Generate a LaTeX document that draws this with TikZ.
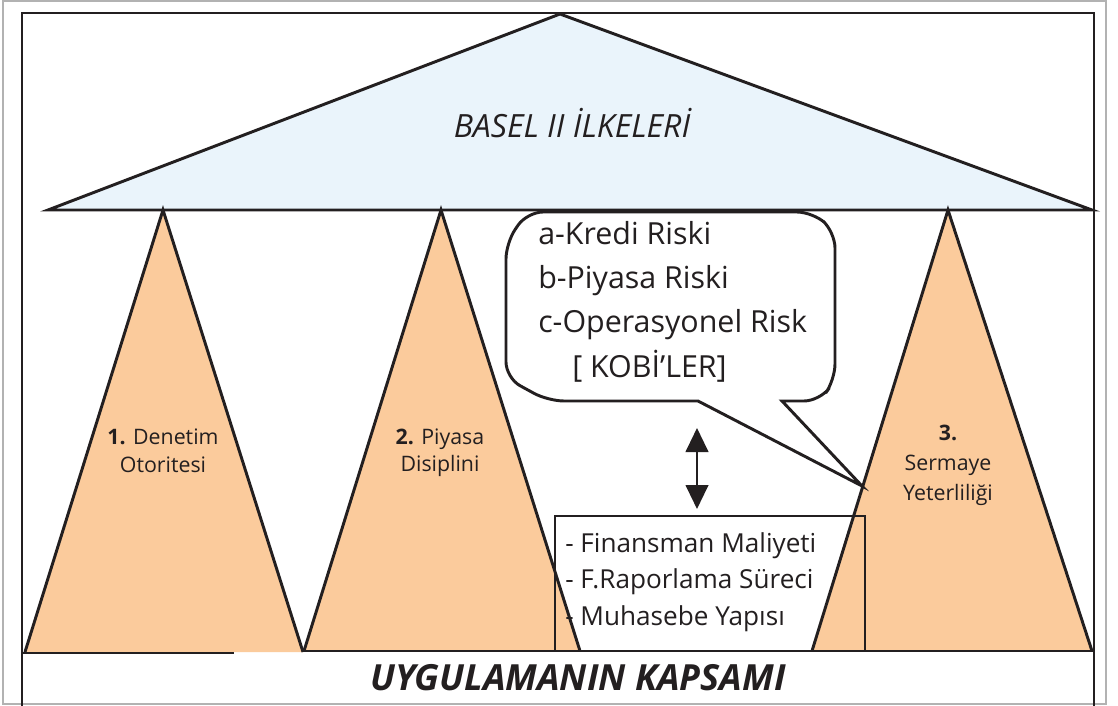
\documentclass[tikz,border=0pt]{standalone}
\usepackage{fontspec}
\setmainfont{Open Sans}
\usetikzlibrary{arrows.meta}
\definecolor{roofblue}{HTML}{EAF4FB}
\definecolor{peach}{HTML}{FBCB9C}
\definecolor{ink}{HTML}{231F20}
\begin{document}
\begin{tikzpicture}[x=0.75pt,y=-0.75pt,
  edge/.style={draw=ink,line width=2.2pt,line join=miter},
  framel/.style={draw=ink,line width=1.6pt},
  pilfill/.style={fill=peach},
  pillabel/.style={inner sep=0pt,anchor=base,text=ink,font=\fontsize{16}{18}\selectfont},
  calltext/.style={inner sep=0pt,anchor=base west,text=ink,font=\fontsize{22.8}{26}\selectfont},
  boxtext/.style={inner sep=0pt,anchor=base west,text=ink,font=\fontsize{19.6}{22}\selectfont},
  title/.style={inner sep=0pt,anchor=base,text=ink,font=\fontsize{24}{28}\selectfont\itshape},
  bigtitle/.style={inner sep=0pt,anchor=base,text=ink,font=\fontsize{27}{30}\selectfont\bfseries\itshape},
  dblarrow/.style={draw=ink,line width=1.6pt,{Triangle[width=17pt,length=18pt]}-{Triangle[width=17pt,length=18pt]}}
]
\useasboundingbox (0,0) rectangle (1118,706);
\fill[white] (0,0) rectangle (1118,706);
% outer thin frame and inner frame
\draw[gray!60,line width=0.8pt] (3,1) rectangle (1106,704);
\draw[framel] (22,706) -- (22,13) -- (1094,13) -- (1094,706);
% roof
\filldraw[fill=roofblue,edge] (48,210) -- (560,14) -- (1092,210) -- cycle;
\node[title] (rooftitle) at (572,138) {BASEL II İLKELERİ};
% pillars
\fill[pilfill] (163,210) -- (25,652) -- (303,652) -- cycle;
\draw[edge] (25,652) -- (163,210) -- (303,652);
\fill[pilfill] (441,210) -- (304,651) -- (580,651) -- cycle;
\draw[edge] (304,651) -- (441,210) -- (580,651);
\fill[pilfill] (948,210) -- (812,651) -- (1092,651) -- cycle;
\draw[edge] (812,651) -- (948,210) -- (1092,651);
% base line
\draw[framel] (22,653) -- (234,653);
\draw[framel] (303,651) -- (1094,651);
% pillar labels
\node[pillabel] (p1a) at (163,444) {\textbf{1.} Denetim};
\node[pillabel] (p1b) at (163,472) {Otoritesi};
\node[pillabel] (p2a) at (440,444) {\textbf{2.} Piyasa};
\node[pillabel] (p2b) at (440,471) {Disiplini};
\node[pillabel] (p3a) at (948,440) {\textbf{3.}};
\node[pillabel] (p3b) at (948,470) {Sermaye};
\node[pillabel] (p3c) at (948,500) {Yeterliliği};
% callout
\draw[edge,fill=white,rounded corners=12pt] (527,212) -- (813,212) -- (835,232) -- (835,380) -- (820,401)
  [sharp corners] -- (782,401) -- (862,486) -- (698,401) [rounded corners=12pt] -- (548,401) -- (506,378) -- (506,243) -- cycle;
\node[calltext] (c1) at (538,245) {a-Kredi Riski};
\node[calltext] (c2) at (538,288) {b-Piyasa Riski};
\node[calltext] (c3) at (538,332) {c-Operasyonel Risk};
\node[calltext] (c4) at (572,377) {[ KOBİ’LER]};
% box
\node[draw=ink,line width=1.5pt,inner sep=0pt,minimum width=232.5pt,minimum height=101.25pt] (box) at (710,583.5) {};
\node[boxtext] (b1) at (565,552) {- Finansman Maliyeti};
\node[boxtext] (b2) at (565,588) {- F.Raporlama Süreci};
\node[boxtext] (b3) at (565,625) {- Muhasebe Yapısı};
% double arrow
\coordinate (arrtop) at (697,428);
\draw[dblarrow] (arrtop) -- ([yshift=4.5pt]arrtop |- box.north);
% bottom title
\node[bigtitle] (base) at (578,690) {UYGULAMANIN KAPSAMI};
\end{tikzpicture}
\end{document}
